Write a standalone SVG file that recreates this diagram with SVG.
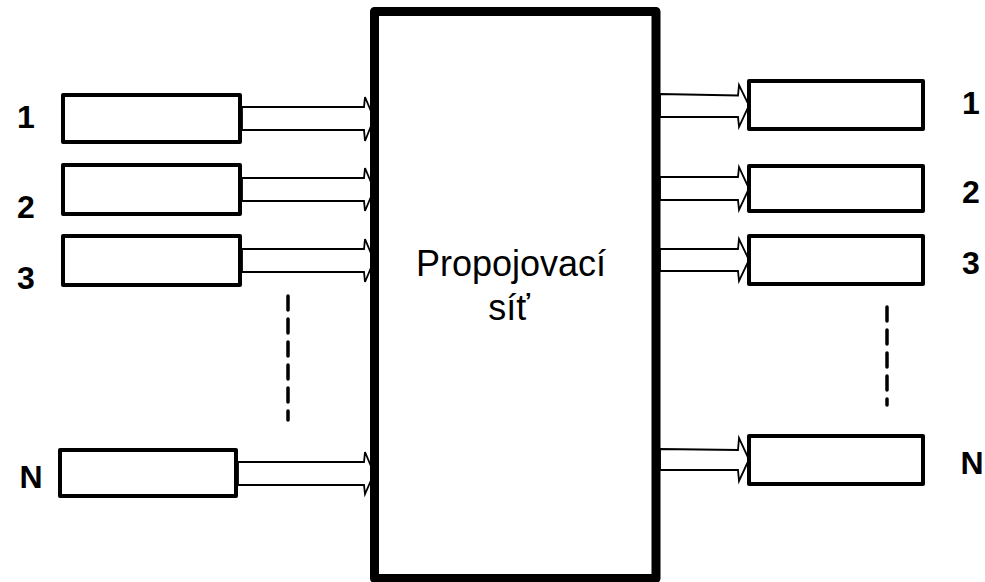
<svg xmlns="http://www.w3.org/2000/svg" width="985" height="582" viewBox="0 0 985 582">
<style>
.box{fill:#fff;stroke:#000;stroke-width:4;stroke-linejoin:round}
.big{fill:#fff;stroke:#000;stroke-width:9;stroke-linejoin:round}
.arr{fill:#fff;stroke:#000;stroke-width:1.8;stroke-linejoin:miter}
.dash{stroke:#000;stroke-width:3.5;stroke-dasharray:14 9;stroke-linecap:round;fill:none}
.lbl{font-family:"Liberation Sans",Arial,sans-serif;font-weight:bold;font-size:32px;text-anchor:middle;fill:#000}
.ctr{font-family:"Liberation Sans",Arial,sans-serif;font-size:36px;text-anchor:middle;fill:#000}
</style>
<rect width="985" height="582" fill="#fff"/>
<g id="connectors">
<polygon class="arr" points="242,107 364,107 365,97 374,118.5 365,141 364,130 242,130"/>
<polygon class="arr" points="242,178 364,178 365,168 374,189.5 365,211 364,201 242,201"/>
<polygon class="arr" points="242,249 364,249 365,239 374,260.5 365,282 364,272 242,272"/>
<polygon class="arr" points="238,462 364,462 365,452 374,473.5 365,494 364,485 238,485"/>
<polygon class="arr" points="660,94 738,95.5 739,85 749,105.5 739,127 738,117 660,117"/>
<polygon class="arr" points="660,177 738,177 739,167 749,188.5 739,210 738,200 660,200"/>
<polygon class="arr" points="660,249 738,249 739,239 749,260 739,281 738,271 660,271"/>
<polygon class="arr" points="660,449 738,450 739,438 749,459.5 739,481 738,470 660,470"/>
</g>
<g id="network">
<rect class="big" x="374.5" y="11.5" width="281.5" height="567"/>
<text class="ctr" x="511" y="276">Propojovací</text>
<text class="ctr" x="509" y="320">síť</text>
</g>
<g id="in1"><rect class="box" x="63" y="95" width="177" height="47"/><text class="lbl" x="26" y="128">1</text></g>
<g id="in2"><rect class="box" x="63" y="165" width="177" height="49"/><text class="lbl" x="26" y="218">2</text></g>
<g id="in3"><rect class="box" x="63" y="236" width="177" height="49"/><text class="lbl" x="26" y="289">3</text></g>
<g id="inN"><rect class="box" x="60" y="450" width="176" height="46"/><text class="lbl" x="31" y="488">N</text></g>
<g id="out1"><rect class="box" x="749" y="81" width="174" height="48"/><text class="lbl" x="971" y="114">1</text></g>
<g id="out2"><rect class="box" x="749" y="166" width="174" height="45"/><text class="lbl" x="971" y="203">2</text></g>
<g id="out3"><rect class="box" x="749" y="236" width="174" height="48"/><text class="lbl" x="971" y="274">3</text></g>
<g id="outN"><rect class="box" x="749" y="436" width="174" height="48"/><text class="lbl" x="972" y="474">N</text></g>
<g id="dots">
<line class="dash" x1="288" y1="296" x2="288" y2="420"/>
<line class="dash" x1="887" y1="307" x2="887" y2="405"/>
</g>
</svg>
